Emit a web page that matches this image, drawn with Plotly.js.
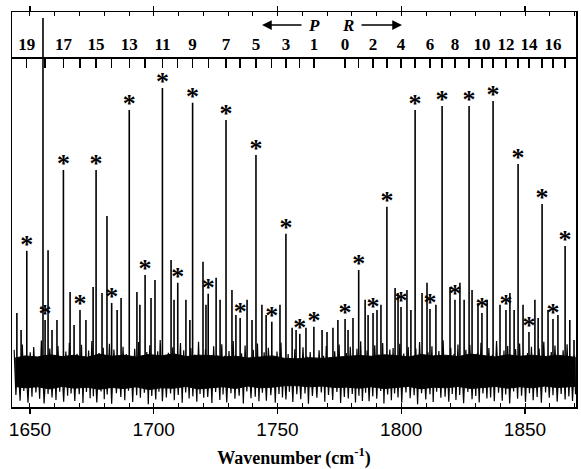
<!DOCTYPE html>
<html>
<head>
<meta charset="utf-8">
<script src="https://cdn.plot.ly/plotly-3.0.1.min.js"></script>
<style>html,body{margin:0;padding:0;background:#fff;}#chart{width:581px;height:469px;}</style>
</head>
<body>
<div id="chart"></div>
<script>
// ---- Data ----
// Rotational lines, P(19..1) then R(0..17), wavenumbers in cm-1
const rungNames = ['P19','P18','P17','P16','P15','P14','P13','P12','P11','P10','P9','P8','P7','P6','P5','P4','P3','P2','P1',
  'R0','R1','R2','R3','R4','R5','R6','R7','R8','R9','R10','R11','R12','R13','R14','R15','R16','R17'];
const rungPos = [1648.7,1656.1,1663.5,1670.2,1676.7,1683.0,1690.1,1696.5,1703.5,1709.7,1715.7,1722.0,1729.2,1734.9,1741.3,1747.7,1753.4,1759.0,1764.7,
  1777.3,1782.8,1788.6,1794.2,1799.9,1805.6,1811.6,1816.5,1821.7,1827.4,1832.6,1837.1,1842.3,1847.2,1851.6,1856.9,1861.3,1866.2];
const rungHeight = [34.4,14.9,57.2,17.7,57.2,19.7,74.1,27.6,80.3,25.4,76.1,22.3,71.3,15.5,61.4,14.4,39.2,11.0,13.0,
  15.2,29.0,16.9,46.8,18.6,74.1,18.0,75.2,20.6,75.2,16.9,76.6,17.7,58.9,11.5,47.6,15.2,35.8];
const rungTickLabels = ['19','','17','','15','','13','','11','','9','','7','','5','','3','','1',
  '0','','2','','4','','6','','8','','10','','12','','14','','16',''];

// Unassigned (unstarred) lines
const otherPos = [1644.7,1646.4,1655.25,1657.3,1658.9,1660.9,1666.2,1667.8,1672.6,1675.5,1679.1,1681.1,1685.2,1686.8,1693.2,1694.4,1698.9,1700.5,
  1707.0,1708.2,1713.0,1714.6,1719.9,1721.1,1725.2,1726.8,1731.6,1733.2,1737.7,1739.7,1743.7,1745.4,1751.0,1755.9,1757.5,1761.5,1768.0,1770.0,
  1772.4,1774.4,1778.5,1780.5,1785.4,1786.6,1790.2,1791.8,1797.5,1798.7,1802.3,1803.9,1808.4,1810.4,1814.0,1819.7,1823.7,1825.4,1828.6,1831.0,
  1834.7,1839.9,1843.9,1845.6,1849.2,1854.0,1855.3,1859.3,1863.3,1868.1,1869.8];
const otherHeight = [16.9,12.1,100,34.6,12.1,14.9,22.8,13.5,14.9,24.2,22.5,44.2,17.7,21.1,22.8,19.2,21.1,26.2,
  31.8,20.6,20.6,14.9,31.3,19.2,26.8,20.6,23.4,16.3,20.6,14.9,19.2,16.3,19.2,12.7,12.1,12.7,12.1,11.5,
  12.7,14.9,12.1,15.5,20.6,16.3,17.7,19.2,23.9,22.5,23.4,17.7,22.5,25.4,19.2,24.2,25.4,20.6,23.4,19.7,
  20.6,19.2,22.5,17.7,19.2,20.6,15.5,17.7,16.3,14.9,9.3];

// Baseline noise: upward excursions
const upNoiseX = [1643.6,1645.1,1646.9,1648.2,1650.1,1651.5,1653.2,1654.6,1656.7,1658.0,
  1659.8,1661.3,1662.7,1664.5,1665.9,1667.3,1669.0,1670.8,1672.0,1673.7,
  1675.0,1676.1,1677.9,1679.6,1680.4,1682.1,1683.9,1685.9,1687.6,1688.9,
  1690.8,1692.3,1693.9,1695.3,1697.2,1698.4,1700.0,1701.6,1702.6,1704.3,
  1705.9,1707.7,1709.0,1710.8,1712.1,1713.7,1715.0,1716.6,1718.1,1719.4,
  1720.9,1722.8,1724.2,1725.9,1727.5,1728.6,1730.4,1732.1,1733.6,1735.5,
  1736.9,1738.4,1740.2,1741.9,1743.1,1744.6,1746.3,1748.4,1749.8,1751.4,
  1752.6,1754.3,1755.4,1757.0,1758.6,1760.3,1761.9,1763.2,1765.1,1766.8,
  1768.6,1769.7,1771.5,1773.1,1774.9,1776.2,1777.8,1779.4,1781.0,1782.1,
  1783.6,1785.0,1786.2,1787.8,1789.3,1790.9,1792.5,1793.6,1795.4,1796.7,
  1798.0,1799.4,1801.0,1802.8,1804.5,1805.9,1807.4,1809.1,1810.8,1812.4,
  1813.5,1815.2,1816.9,1818.5,1820.0,1821.3,1822.9,1824.4,1826.1,1827.7,
  1829.5,1830.8,1832.2,1833.9,1835.4,1836.8,1838.5,1840.1,1841.5,1843.0,
  1844.6,1846.2,1847.8,1849.5,1851.0,1852.6,1854.1,1855.7,1857.6,1859.0,
  1860.6,1862.1,1863.9,1865.4,1867.0,1868.5,1870.0];
const upNoiseH = [6.5,4.2,8.0,3.9,5.8,7.3,4.0,9.1,4.3,6.9,
  5.1,7.6,4.4,6.0,8.5,3.8,5.4,7.9,4.7,6.3,
  9.0,4.1,5.6,7.1,4.5,8.2,6.6,4.1,7.4,5.3,
  3.9,6.8,8.7,4.9,5.9,7.8,4.3,6.1,9.3,3.7,
  5.7,7.2,4.6,8.4,6.4,3.9,7.0,5.2,8.8,4.4,
  6.7,3.8,7.5,5.0,8.1,4.8,6.2,9.0,4.0,5.5,
  7.7,4.1,6.5,8.3,3.9,5.8,7.1,4.5,6.0,8.6,
  3.6,5.3,4.0,6.7,3.9,7.2,4.6,5.9,3.8,6.4,
  4.8,7.6,4.0,6.1,8.0,4.3,5.6,7.4,4.0,6.8,
  8.9,4.7,6.3,3.9,7.8,5.2,8.4,4.4,6.6,7.0,
  3.8,8.2,5.5,7.3,4.2,6.9,8.7,3.6,5.8,7.5,
  4.9,6.2,9.2,4.0,7.1,5.4,8.0,3.7,6.5,7.9,
  4.3,5.7,8.5,3.9,7.0,5.1,9.0,4.6,6.3,7.6,
  3.8,6.7,8.3,4.4,5.6,7.4,4.1,6.9,8.8,3.9,
  5.9,7.7,4.5,6.4,8.1,4.2,5.0];
// Baseline noise: downward excursions
const dnNoiseX = [1644.3,1646.0,1647.5,1649.2,1650.8,1652.4,1653.9,1655.7,1657.3,1658.9,
  1660.5,1662.0,1663.6,1665.2,1666.6,1668.1,1669.9,1671.4,1672.8,1674.3,
  1675.6,1677.0,1678.7,1680.0,1681.2,1683.0,1684.9,1686.7,1688.3,1689.8,
  1691.5,1693.1,1694.6,1696.2,1697.8,1699.2,1700.8,1702.1,1703.5,1705.1,
  1706.8,1708.3,1709.9,1711.5,1712.9,1714.3,1715.8,1717.4,1718.7,1720.2,
  1721.8,1723.5,1725.0,1726.7,1728.0,1729.5,1731.2,1732.8,1734.5,1736.2,
  1737.6,1739.3,1741.0,1742.5,1743.9,1745.5,1747.3,1749.1,1750.6,1752.0,
  1753.4,1754.8,1756.2,1757.8,1759.4,1761.1,1762.5,1764.1,1765.9,1767.7,
  1769.1,1770.6,1772.3,1774.0,1775.5,1777.0,1778.6,1780.2,1781.5,1782.9,
  1784.3,1785.6,1787.0,1788.5,1790.1,1791.7,1793.0,1794.5,1796.0,1797.3,
  1798.7,1800.2,1801.9,1803.6,1805.2,1806.6,1808.2,1809.9,1811.6,1812.9,
  1814.3,1816.0,1817.7,1819.2,1820.6,1822.1,1823.6,1825.2,1826.9,1828.6,
  1830.1,1831.5,1833.0,1834.6,1836.1,1837.6,1839.3,1840.8,1842.2,1843.8,
  1845.4,1847.0,1848.6,1850.2,1851.8,1853.3,1854.9,1856.6,1858.3,1859.8,
  1861.3,1863.0,1864.6,1866.2,1867.7,1869.2,1870.4];
const dnNoiseD = [-6.2,-7.8,-5.1,-8.4,-6.7,-5.5,-7.3,-8.6,-5.9,-6.9,
  -7.6,-5.3,-8.1,-6.4,-5.8,-7.9,-6.0,-8.5,-5.4,-7.1,
  -6.6,-8.3,-5.2,-7.4,-6.1,-8.7,-5.7,-6.8,-7.7,-5.0,
  -8.2,-6.3,-7.0,-5.6,-8.8,-6.5,-7.5,-5.3,-8.0,-6.9,
  -5.8,-7.7,-6.2,-8.4,-5.5,-7.2,-6.6,-8.1,-5.9,-7.0,
  -6.8,-8.5,-5.4,-7.6,-6.1,-8.3,-5.7,-7.3,-6.4,-8.6,
  -5.2,-7.1,-6.7,-8.0,-5.6,-7.8,-6.3,-8.4,-5.9,-6.9,
  -7.5,-5.3,-8.2,-6.0,-7.4,-5.8,-8.7,-6.5,-7.0,-5.5,
  -8.1,-6.2,-7.6,-5.4,-8.5,-6.8,-7.2,-5.9,-8.3,-6.4,
  -7.9,-5.6,-8.0,-6.6,-7.3,-5.1,-8.6,-6.1,-7.7,-5.8,
  -6.9,-8.4,-5.5,-7.1,-6.3,-8.8,-5.7,-7.5,-6.0,-8.2,
  -5.3,-7.0,-6.7,-8.1,-5.9,-7.6,-6.2,-8.5,-5.4,-7.4,
  -6.5,-8.3,-5.8,-7.2,-6.9,-8.0,-5.6,-7.8,-6.1,-8.6,
  -5.2,-7.3,-6.4,-8.2,-5.7,-7.7,-6.8,-8.4,-5.5,-7.0,
  -6.3,-8.1,-5.9,-7.5,-6.6,-7.9,-6.0];

// Dense core of the noise band (envelope every ~5 cm-1)
const bandX = [1644,1648,1653,1658,1663,1668,1673,1678,1683,1688,1693,1698,1703,1708,1713,1718,1723,1728,1733,1738,1743,1748,1753,
  1758,1763,1768,1773,1778,1783,1788,1793,1798,1803,1808,1813,1818,1823,1828,1833,1838,1843,1848,1853,1858,1863,1868,1870.3];
const bandHi = [4.2,4.8,4.5,5.1,4.6,5.0,4.4,5.3,4.7,5.0,4.5,5.2,4.8,5.4,4.6,5.0,4.9,4.5,4.7,4.2,4.5,4.8,4.1,
  4.0,4.3,4.1,4.4,4.6,4.9,4.7,5.1,4.9,4.5,5.2,4.8,5.0,4.6,5.3,4.9,4.5,5.1,4.7,5.0,4.6,5.0,4.7,4.4];
const bandLo = [-3.8,-4.2,-3.9,-4.5,-3.8,-4.3,-4.0,-4.6,-4.1,-4.4,-3.9,-4.7,-4.2,-4.3,-3.8,-4.5,-4.1,-3.9,-4.4,-3.7,-4.2,-4.0,-3.6,
  -3.6,-3.9,-3.7,-4.1,-4.0,-4.3,-3.9,-4.4,-4.1,-3.8,-4.5,-4.0,-4.2,-3.8,-4.4,-4.1,-3.8,-4.3,-3.9,-4.2,-3.7,-4.1,-3.9,-3.8];

const xTickVals = [1650,1700,1750,1800,1850];

// ---- Build traces ----
function stems(pos, val) {
  const xs = [], ys = [];
  const n = Math.min(pos.length, val.length);
  for (let i = 0; i < n; i++) { xs.push(pos[i], pos[i], null); ys.push(0, val[i], null); }
  return {x: xs, y: ys};
}
const noisePts = [];
for (let i = 0; i < Math.min(upNoiseX.length, upNoiseH.length); i++) noisePts.push([upNoiseX[i], upNoiseH[i]]);
for (let i = 0; i < Math.min(dnNoiseX.length, dnNoiseD.length); i++) noisePts.push([dnNoiseX[i], dnNoiseD[i]]);
noisePts.sort((a, b) => a[0] - b[0]);

const bandTrace = {
  x: bandX.concat(bandX.slice().reverse()),
  y: bandHi.concat(bandLo.slice().reverse()),
  type: 'scatter', mode: 'lines', fill: 'toself', fillcolor: '#000',
  line: {color: '#000', width: 1}, hoverinfo: 'skip', showlegend: false
};
const noiseTrace = {
  x: noisePts.map(p => p[0]), y: noisePts.map(p => p[1]),
  type: 'scatter', mode: 'lines', line: {color: '#000', width: 1.2}, hoverinfo: 'skip', showlegend: false
};
const s1 = stems(rungPos, rungHeight);
const s2 = stems(otherPos, otherHeight);
const lineTrace = {
  x: s1.x.concat(s2.x), y: s1.y.concat(s2.y),
  type: 'scatter', mode: 'lines', line: {color: '#000', width: 1.6}, showlegend: false, hoverinfo: 'skip'
};
const starOffset = 1.3;
const starTrace = {
  x: rungPos, y: rungHeight.map(v => v + starOffset),
  xaxis: 'x2', yaxis: 'y',
  type: 'scatter', mode: 'text', text: rungPos.map(() => '*'),
  textposition: 'middle center',
  textfont: {family: 'Liberation Serif', size: 26, color: '#000', weight: 'bold'},
  showlegend: false, hoverinfo: 'skip'
};

const xr = [1642.73, 1870.6];
const serif = 'Liberation Serif';
const layout = {
  width: 581, height: 469,
  margin: {l: 12, r: 5, t: 12, b: 62},
  paper_bgcolor: '#fff', plot_bgcolor: '#fff',
  showlegend: false,
  xaxis: {
    range: xr, tickvals: xTickVals, ticks: 'outside', ticklen: 5, tickwidth: 1.2, tickcolor: '#000',
    showline: true, linecolor: '#000', linewidth: 1.5, mirror: 'ticks',
    showgrid: false, zeroline: false,
    minor: {dtick: 10, tick0: 1650, ticks: 'inside', ticklen: 4, tickwidth: 1, tickcolor: '#000'},
    tickfont: {family: 'Liberation Sans', size: 19, color: '#000'},
    title: {text: 'Wavenumber (cm<sup>-1</sup>)', font: {family: serif, size: 18, color: '#000', weight: 'bold'}, standoff: 12}
  },
  xaxis2: {
    range: xr, overlaying: 'x', anchor: 'free', position: 0.886, side: 'top',
    tickvals: rungPos, ticktext: rungTickLabels, ticks: 'inside', ticklen: 9, tickwidth: 1.3, tickcolor: '#000',
    showline: true, linecolor: '#000', linewidth: 1.5, showgrid: false, zeroline: false,
    tickfont: {family: serif, size: 17, color: '#000', weight: 'bold'}
  },
  yaxis: {
    range: [-9.6, 101.7], showticklabels: false, ticks: '', showgrid: false, zeroline: false,
    showline: true, linecolor: '#000', linewidth: 1.5, mirror: true
  },
  annotations: [
    {xref: 'paper', yref: 'paper', x: 0.4433, y: 0.967, ax: 41, ay: 0, text: '', showarrow: true,
     arrowhead: 2, arrowsize: 1.3, arrowwidth: 1.5, arrowcolor: '#000'},
    {xref: 'paper', yref: 'paper', x: 0.6915, y: 0.967, ax: -42, ay: 0, text: '', showarrow: true,
     arrowhead: 2, arrowsize: 1.3, arrowwidth: 1.5, arrowcolor: '#000'},
    {xref: 'paper', yref: 'paper', x: 0.5355, y: 0.967, yanchor: 'middle', xanchor: 'center', text: '<b><i>P</i></b>', showarrow: false,
     font: {family: serif, size: 17, color: '#000'}},
    {xref: 'paper', yref: 'paper', x: 0.5957, y: 0.967, yanchor: 'middle', xanchor: 'center', text: '<b><i>R</i></b>', showarrow: false,
     font: {family: serif, size: 17, color: '#000'}}
  ]
};
Plotly.newPlot('chart', [bandTrace, noiseTrace, lineTrace, starTrace], layout, {staticPlot: true, displayModeBar: false});
</script>
</body>
</html>
